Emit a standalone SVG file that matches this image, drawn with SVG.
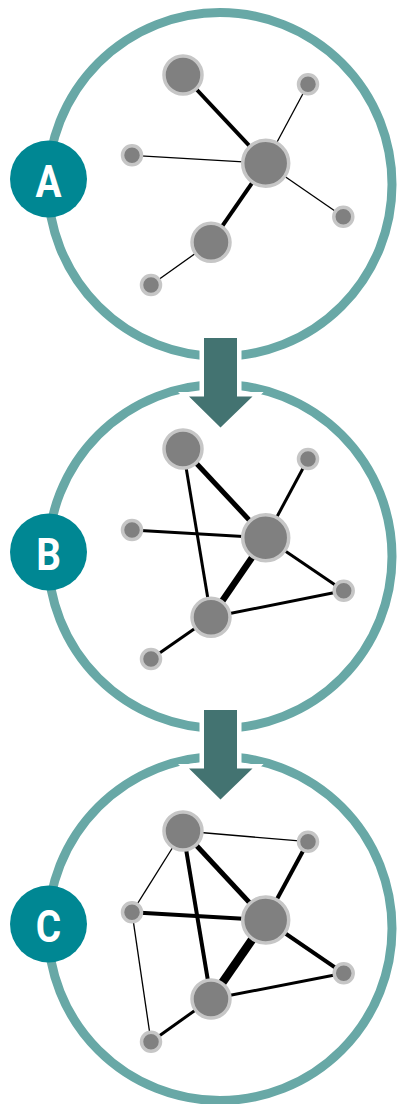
<svg xmlns="http://www.w3.org/2000/svg" width="397" height="1104" viewBox="0 0 397 1104">
  <style>
    .ring { fill: none; stroke: #68a8a6; stroke-width: 9; }
    .badge { fill: #008793; }
    .badge-label { fill: #ffffff; font-family: Roboto, "Liberation Sans", sans-serif; font-weight: bold; font-size: 44px; text-anchor: middle; }
    .arrow { fill: #437371; stroke: #ffffff; stroke-width: 9; stroke-linejoin: miter; paint-order: stroke; }
    .node { fill: #808080; stroke: #c6c6c6; stroke-width: 3.5; }
    .edge { stroke: #000000; stroke-linecap: butt; fill: none; }
    .w1 { stroke-width: 1.3; }
    .w3 { stroke-width: 3; }
    .w4 { stroke-width: 4; }
    .w5 { stroke-width: 5; }
    .w6 { stroke-width: 6.5; }
    .w8 { stroke-width: 8.5; }
  </style>

  <!-- outer rings for the three stages -->
  <g id="rings">
    <circle class="ring" cx="220" cy="184.5" r="172"/>
    <circle class="ring" cx="220" cy="556.5" r="172"/>
    <circle class="ring" cx="220" cy="928.5" r="172"/>
  </g>

  <!-- transition arrows between stages -->
  <g id="arrows">
    <path class="arrow" d="M204 338 H237 V396.5 H252.5 L220.5 427.5 L189 396.5 H204 Z"/>
    <path class="arrow" d="M204 710 H237 V768.5 H252.5 L220.5 799.5 L189 768.5 H204 Z"/>
  </g>

  <!-- stage A -->
  <g id="connectors-a">
    <line class="edge w4" x1="183" y1="75" x2="265.7" y2="163.3"/>
    <line class="edge w1" x1="308" y1="84.3" x2="265.7" y2="163.3"/>
    <line class="edge w1" x1="132" y1="155.3" x2="265.7" y2="163.3"/>
    <line class="edge w1" x1="343.3" y1="216.7" x2="265.7" y2="163.3"/>
    <line class="edge w4" x1="211" y1="242.3" x2="265.7" y2="163.3"/>
    <line class="edge w1" x1="211" y1="242.3" x2="151" y2="285"/>
  </g>
  <g id="nodes-a">
    <circle id="a1" class="node" cx="183" cy="75" r="19"/>
    <circle id="a2" class="node" cx="308" cy="84.3" r="9.5"/>
    <circle id="a3" class="node" cx="132" cy="155.3" r="9.5"/>
    <circle id="a4" class="node" cx="265.7" cy="163.3" r="23"/>
    <circle id="a5" class="node" cx="343.3" cy="216.7" r="9.5"/>
    <circle id="a6" class="node" cx="211" cy="242.3" r="19"/>
    <circle id="a7" class="node" cx="151" cy="285" r="9.5"/>
  </g>
  <g id="badge-a">
    <circle class="badge" cx="48.5" cy="179" r="38.5"/>
    <text class="badge-label" transform="translate(48.5 197.3) scale(0.88 1)">A</text>
  </g>

  <!-- stage B -->
  <g id="connectors-b">
    <line class="edge w5" x1="183" y1="449" x2="265.7" y2="537.7"/>
    <line class="edge w3" x1="183" y1="449" x2="211" y2="617.3"/>
    <line class="edge w3" x1="308" y1="459" x2="265.7" y2="537.7"/>
    <line class="edge w3" x1="132" y1="530" x2="265.7" y2="537.7"/>
    <line class="edge w3" x1="343.7" y1="590.7" x2="265.7" y2="537.7"/>
    <line class="edge w6" x1="211" y1="617.3" x2="265.7" y2="537.7"/>
    <line class="edge w3" x1="211" y1="617.3" x2="343.7" y2="590.7"/>
    <line class="edge w3" x1="211" y1="617.3" x2="151" y2="659"/>
  </g>
  <g id="nodes-b">
    <circle id="b1" class="node" cx="183" cy="449" r="19"/>
    <circle id="b2" class="node" cx="308" cy="459" r="9.5"/>
    <circle id="b3" class="node" cx="132" cy="530" r="9.5"/>
    <circle id="b4" class="node" cx="265.7" cy="537.7" r="23"/>
    <circle id="b5" class="node" cx="343.7" cy="590.7" r="9.5"/>
    <circle id="b6" class="node" cx="211" cy="617.3" r="19"/>
    <circle id="b7" class="node" cx="151" cy="659" r="9.5"/>
  </g>
  <g id="badge-b">
    <circle class="badge" cx="48.5" cy="552" r="38.5"/>
    <text class="badge-label" transform="translate(48.5 570.3) scale(0.88 1)">B</text>
  </g>

  <!-- stage C -->
  <g id="connectors-c">
    <line class="edge w1" x1="183" y1="831" x2="308" y2="841.7"/>
    <line class="edge w1" x1="183" y1="831" x2="132" y2="912.3"/>
    <line class="edge w1" x1="132" y1="912.3" x2="151" y2="1041.7"/>
    <line class="edge w5" x1="183" y1="831" x2="265.7" y2="920"/>
    <line class="edge w4" x1="183" y1="831" x2="211" y2="999"/>
    <line class="edge w4" x1="308" y1="841.7" x2="265.7" y2="920"/>
    <line class="edge w4" x1="132" y1="912.3" x2="265.7" y2="920"/>
    <line class="edge w4" x1="343.7" y1="973.3" x2="265.7" y2="920"/>
    <line class="edge w8" x1="211" y1="999" x2="265.7" y2="920"/>
    <line class="edge w3" x1="211" y1="999" x2="343.7" y2="973.3"/>
    <line class="edge w3" x1="211" y1="999" x2="151" y2="1041.7"/>
  </g>
  <g id="nodes-c">
    <circle id="c1" class="node" cx="183" cy="831" r="19"/>
    <circle id="c2" class="node" cx="308" cy="841.7" r="9.5"/>
    <circle id="c3" class="node" cx="132" cy="912.3" r="9.5"/>
    <circle id="c4" class="node" cx="265.7" cy="920" r="23"/>
    <circle id="c5" class="node" cx="343.7" cy="973.3" r="9.5"/>
    <circle id="c6" class="node" cx="211" cy="999" r="19"/>
    <circle id="c7" class="node" cx="151" cy="1041.7" r="9.5"/>
  </g>
  <g id="badge-c">
    <circle class="badge" cx="48.5" cy="924" r="38.5"/>
    <text class="badge-label" transform="translate(48.5 942.3) scale(0.88 1)">C</text>
  </g>
</svg>
